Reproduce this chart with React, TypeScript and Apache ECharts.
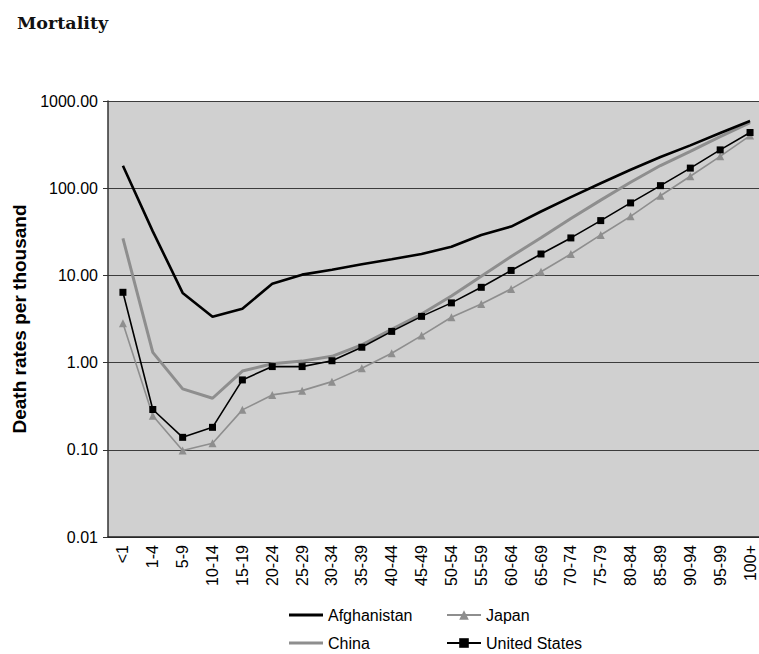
import React, { useEffect, useRef } from "react";
import * as echarts from "echarts";

// Age groups along the horizontal axis
const ageGroups: string[] = [
  "<1", "1-4", "5-9", "10-14", "15-19", "20-24", "25-29", "30-34", "35-39",
  "40-44", "45-49", "50-54", "55-59", "60-64", "65-69", "70-74", "75-79",
  "80-84", "85-89", "90-94", "95-99", "100+",
];

// Death rates per thousand, by age group
const afghanistan: number[] = [
  181, 32, 6.3, 3.35, 4.15, 8.0, 10.2, 11.6, 13.4, 15.3, 17.6, 21.3, 29, 36.3,
  54, 79, 114, 163, 228, 310, 430, 590,
];
const china: number[] = [
  26.6, 1.31, 0.5, 0.39, 0.8, 0.97, 1.04, 1.18, 1.6, 2.4, 3.6, 5.8, 9.8, 16.5,
  27, 45, 73, 117, 182, 265, 390, 565,
];
const japan: number[] = [
  2.82, 0.246, 0.098, 0.119, 0.287, 0.426, 0.477, 0.605, 0.86, 1.28, 2.04,
  3.31, 4.71, 7.0, 11.0, 17.6, 29.1, 47.6, 82, 137, 232, 401,
];
const unitedStates: number[] = [
  6.4, 0.29, 0.139, 0.181, 0.633, 0.9, 0.9, 1.05, 1.5, 2.28, 3.39, 4.84, 7.3,
  11.4, 17.6, 26.9, 42.5, 67.8, 107, 170, 275, 435,
];

// Value-axis range
const yMin = 0.01;
const yMax = 1000;
// Age-group index range: half a band before the first group, the plot
// is cut off by the frame a little after the last one
const xMin = -0.5;
const xMax = 21.3;

const SANS = "'Liberation Sans', Arial, Helvetica, sans-serif";
// Plain bar used as the legend key for the unmarked lines
const LINE_ICON = "path://M0,0H34V3H0Z";

const indexed = (values: number[]) => values.map((v, i) => [i, v]);

export default function App() {
  const ref = useRef<HTMLDivElement>(null);

  useEffect(() => {
    if (!ref.current) return;
    const chart = echarts.init(ref.current, undefined, { renderer: "svg" });

    const legendBase = {
      orient: "vertical",
      top: 606,
      padding: 0,
      itemWidth: 34,
      itemHeight: 12,
      itemGap: 10,
      textStyle: { fontFamily: SANS, fontSize: 16, color: "#000", lineHeight: 18 },
    };

    chart.setOption({
      animation: false,
      backgroundColor: "#ffffff",
      title: {
        text: "Mortality",
        left: 12,
        top: 9,
        textStyle: {
          fontFamily: "'DejaVu Serif', serif",
          fontWeight: "bold",
          fontSize: 17.5,
          color: "#111",
        },
      },
      legend: [
        {
          ...legendBase,
          left: 289,
          data: [
            { name: "Afghanistan", icon: LINE_ICON },
            { name: "China", icon: LINE_ICON },
          ],
        },
        {
          ...legendBase,
          left: 446,
          data: ["Japan", "United States"],
        },
      ],
      grid: {
        left: 108,
        top: 101,
        bottom: 117,
        right: 0,
        show: true,
        backgroundColor: "#d0d0d0",
        borderWidth: 0,
      },
      xAxis: {
        type: "value",
        min: xMin,
        max: xMax,
        axisLine: { show: true, onZero: false, lineStyle: { color: "#222", width: 1.5 } },
        axisTick: { show: false },
        axisLabel: {
          customValues: ageGroups.map((_, i) => i),
          formatter: (v: number) => ageGroups[Math.round(v)] ?? "",
          rotate: 90,
          margin: 8,
          fontFamily: SANS,
          fontSize: 16,
          lineHeight: 13,
          color: "#000",
          showMinLabel: true,
          showMaxLabel: true,
        },
        splitLine: { show: false },
      },
      yAxis: {
        type: "log",
        logBase: 10,
        min: yMin,
        max: yMax,
        name: "Death rates per thousand",
        nameLocation: "middle",
        nameGap: 74,
        nameTextStyle: {
          fontFamily: SANS,
          fontWeight: "bold",
          fontSize: 19,
          color: "#000",
        },
        axisLine: { show: true, onZero: false, lineStyle: { color: "#333", width: 1.5 } },
        axisTick: { show: true, length: 5, inside: false, lineStyle: { color: "#333" } },
        axisLabel: {
          margin: 10,
          fontFamily: SANS,
          fontSize: 16,
          color: "#000",
          formatter: (v: number) => v.toFixed(2),
        },
        splitLine: { show: true, lineStyle: { color: "#3c3c3c", width: 1.2 } },
      },
      series: [
        {
          name: "Afghanistan",
          type: "line",
          data: indexed(afghanistan),
          symbol: "none",
          lineStyle: { color: "#000", width: 2.6 },
          itemStyle: { color: "#000" },
          z: 4,
        },
        {
          name: "Japan",
          type: "line",
          data: indexed(japan),
          symbol: "triangle",
          symbolSize: 8,
          lineStyle: { color: "#8e8e8e", width: 1.6 },
          itemStyle: { color: "#8e8e8e" },
          z: 2,
        },
        {
          name: "China",
          type: "line",
          data: indexed(china),
          symbol: "none",
          lineStyle: { color: "#8e8e8e", width: 3 },
          itemStyle: { color: "#8e8e8e" },
          z: 1,
        },
        {
          name: "United States",
          type: "line",
          data: indexed(unitedStates),
          symbol: "rect",
          symbolSize: 7,
          lineStyle: { color: "#000", width: 1.6 },
          itemStyle: { color: "#000" },
          z: 3,
        },
      ],
    });

    return () => chart.dispose();
  }, []);

  return (
    <div
      ref={ref}
      style={{ position: "fixed", left: 0, top: 0, width: 759, height: 654 }}
    />
  );
}
